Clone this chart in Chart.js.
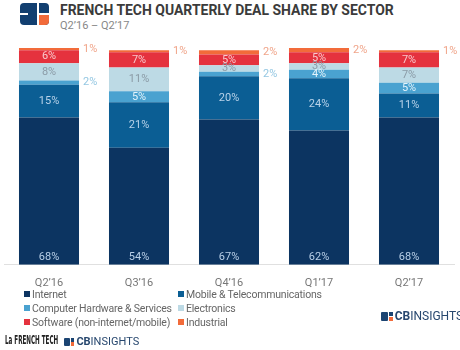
<!DOCTYPE html>
<html><head><meta charset="utf-8">
<script src="https://cdn.jsdelivr.net/npm/chart.js"></script>
<style>
html,body{margin:0;padding:0;background:#fff;width:460px;height:350px;overflow:hidden;font-family:Roboto,"Noto Sans",sans-serif;}
#wrap{position:relative;width:460px;height:350px;}
#logo{position:absolute;left:20px;top:3px;width:29px;height:22px;border-radius:4px;background:#123f70;overflow:hidden;}
#logo .v{position:absolute;left:17px;top:0;width:2px;height:22px;background:#fff;}
#logo .h{position:absolute;left:17px;top:10px;width:12px;height:2px;background:#fff;}
#logo .o{position:absolute;left:19px;top:12px;width:10px;height:10px;background:#f26b3a;}
#logo .h2{position:absolute;left:0;top:10px;width:8px;height:2px;background:#fff;}
#title{position:absolute;left:60px;top:1px;font-weight:700;font-size:15.5px;color:#3b3b3b;white-space:nowrap;transform-origin:0 0;}
#sub{position:absolute;left:60px;top:19px;font-size:11px;color:#888;white-space:nowrap;}
#chartBox{position:absolute;left:0;top:40px;width:460px;height:254px;}
#legend{position:absolute;left:0;top:288px;width:460px;height:42px;font-size:10.5px;letter-spacing:-0.2px;color:#666;}
.li{position:absolute;white-space:nowrap;line-height:14px;}
.li span.sq{display:inline-block;width:6px;height:6px;margin-right:2px;vertical-align:1px;}
#lft{position:absolute;left:5px;top:333px;font-family:"DejaVu Sans Condensed","Liberation Sans Narrow",sans-serif;font-weight:700;font-size:12px;color:#222;white-space:nowrap;transform-origin:0 0;}
.cb{position:absolute;white-space:nowrap;color:#27476e;}
.cb .ic{display:inline-block;position:relative;vertical-align:middle;}
.cb b{font-weight:700;}
</style></head>
<body><div id="wrap">
<div id="logo"><div class="v"></div><div class="h"></div><div class="h2"></div><div class="o"></div></div>
<div id="title">FRENCH TECH QUARTERLY DEAL SHARE BY SECTOR</div>
<div id="sub">Q2’16 – Q2’17</div>
<div id="chartBox"><canvas id="c"></canvas></div>
<div id="legend"></div>
<div id="lft">La FRENCH TECH</div>
<div class="cb" id="cb1" style="left:64px;top:335px;font-size:11px;"></div>
<div class="cb" id="cb2" style="left:381px;top:309px;font-size:12px;"></div>
</div>
<script>
const categories = ["Q2’16","Q3’16","Q4’16","Q1’17","Q2’17"];
const seriesNames = ["Internet","Mobile & Telecommunications","Computer Hardware & Services","Electronics","Software (non-internet/mobile)","Industrial"];
const internet = [68,54,67,62,68];
const mobile = [15,21,20,24,11];
const hardware = [2,5,2,4,5];
const electronics = [8,11,3,3,7];
const software = [6,7,5,5,7];
const industrial = [1,1,2,2,1];

const seriesValues = [internet,mobile,hardware,electronics,software,industrial];
const colors = ["#0c3461","#0b5e94","#4aa2d0","#bddae5","#e5323e","#f26b3a"];
const labelColors = ["#b9d0e8","#b9d3ea","#e3f3fb","#8b9ba6","#f8c9cc","#f0a58a"];
const outsideColors = ["#b9d0e8","#b9d3ea","#94c7e2","#8b9ba6","#f8c9cc","#f0a58a"];

const t = document.getElementById('title');
t.style.transform = 'scaleX(' + (334 / t.scrollWidth) + ')';
const lf = document.getElementById('lft');
lf.style.transform = 'scaleX(' + (53 / lf.scrollWidth) + ')';

function cbLogo(el, s){
  el.innerHTML = '<span class="ic" style="width:'+(s*1.3)+'px;height:'+s+'px;margin-right:2px;">'+
  '<span style="position:absolute;left:0;top:0;width:'+(s*0.8)+'px;height:'+s+'px;background:#1b4472;border-radius:1px;"></span>'+
  '<span style="position:absolute;left:'+(s*0.9)+'px;top:0;width:'+(s*0.4)+'px;height:'+(s*0.45)+'px;background:#1b4472;"></span>'+
  '<span style="position:absolute;left:'+(s*0.9)+'px;top:'+(s*0.55)+'px;width:'+(s*0.4)+'px;height:'+(s*0.45)+'px;background:#f26b3a;"></span>'+
  '</span><b>CB</b>INSIGHTS';
}
cbLogo(document.getElementById('cb1'), 8);
cbLogo(document.getElementById('cb2'), 9);

const leg = document.getElementById('legend');
const legPos = [[24,0],[178,0],[24,14],[178,14],[24,28],[178,28]];
seriesNames.forEach((n,i)=>{
  const d = document.createElement('div');
  d.className='li';
  d.style.left = legPos[i][0]+'px';
  d.style.top = legPos[i][1]+'px';
  d.innerHTML = '<span class="sq" style="background:'+colors[i]+'"></span>'+n;
  leg.appendChild(d);
});

const labelPlugin = {
  id:'segLabels',
  afterDatasetsDraw(chart){
    const ctx = chart.ctx;
    ctx.save();
    ctx.font = '11px Roboto';
    ctx.textBaseline = 'middle';
    chart.data.datasets.forEach((ds,di)=>{
      const meta = chart.getDatasetMeta(di);
      meta.data.forEach((bar,i)=>{
        const v = ds.data[i];
        const p = bar.getProps(['x','y','base','width'],true);
        const txt = v + '%';
        const top = Math.min(p.y,p.base), bot = Math.max(p.y,p.base);
        const outside = (di===5) || (di===2 && v<=2);
        if (outside){
          ctx.textAlign='left';
          ctx.fillStyle = outsideColors[di];
          ctx.fillText(txt, p.x + p.width/2 + 4, (top+bot)/2);
        } else {
          ctx.textAlign='center';
          ctx.fillStyle = labelColors[di];
          const y = di===0 ? bot - 8 : (top+bot)/2;
          ctx.fillText(txt, p.x, y);
        }
      });
    });
    ctx.restore();
  }
};

new Chart(document.getElementById('c'),{
  type:'bar',
  data:{
    labels:categories,
    datasets: seriesNames.map((n,i)=>({label:n,data:seriesValues[i],backgroundColor:colors[i],borderWidth:0,barPercentage:0.667,categoryPercentage:1}))
  },
  options:{
    responsive:true,maintainAspectRatio:false,animation:false,
    layout:{padding:{left:4,right:6,top:8,bottom:0}},
    plugins:{legend:{display:false},tooltip:{enabled:false}},
    scales:{
      x:{stacked:true,grid:{display:false},border:{display:true,color:'#e0e0e0',width:1},
         ticks:{color:'#777',font:{family:'Roboto',size:11},padding:4}},
      y:{stacked:true,display:false,min:0,max:100}
    }
  },
  plugins:[labelPlugin]
});
</script>
</body></html>
